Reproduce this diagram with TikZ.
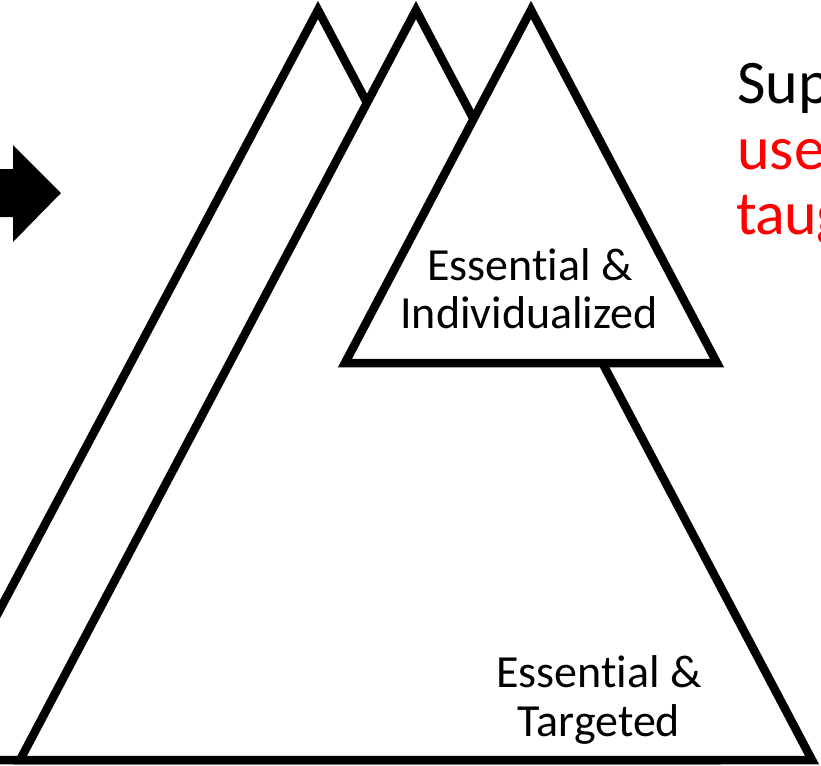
\documentclass[tikz,border=0pt]{standalone}
\usepackage{fontspec}
\setmainfont[Ligatures=NoCommon]{Carlito}
\begin{document}
\begin{tikzpicture}[x=1pt,y=-1pt,
  tri/.style={draw=black,fill=white,line width=8.5pt,line join=miter},
  lbl/.style={anchor=base,inner sep=0pt,font=\fontsize{46}{48}\selectfont},
  side/.style={anchor=base west,inner sep=0pt,font=\fontsize{62}{66}\selectfont}]
\useasboundingbox (0,0) rectangle (821,765);
\fill[white] (0,0) rectangle (821,765);
% back triangle
\draw[tri] (318,10) -- (714,760) -- (-80,760) -- cycle;
% big triangle
\draw[tri] (416,10) -- (812,760) -- (20,760) -- cycle;
% small front triangle
\draw[tri] (531,10) -- (717,363) -- (345,363) -- cycle;
% labels
\node[lbl] (e1) at (530,280) {Essential \&};
\node[lbl] (i1) at (529,328) {Individualized};
\node[lbl] (e2) at (599,687) {Essential \&};
\node[lbl] (t2) at (599,736) {Targeted};
% right text
\node[side] (s1) at (737,104) {Sup};
\node[side,text=red] (s2) at (737,169) {use};
\node[side,text=red] (s3) at (737,234) {\kern-1pt t\kern-1pt a\kern-1pt u\kern-1pt g};
% arrow
\fill[black] (-5,169) -- (13,169) -- (13,145) -- (61,193) -- (13,242) -- (13,217) -- (-5,217) -- cycle;
\end{tikzpicture}
\end{document}
